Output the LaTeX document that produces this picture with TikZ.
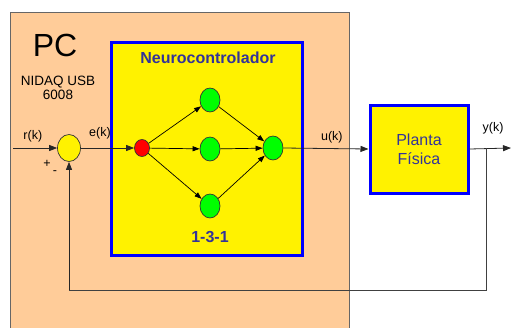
\documentclass[tikz,border=0pt]{standalone}
\usepackage{fontspec}
\setmainfont{Liberation Sans}
\usetikzlibrary{shapes.geometric, arrows.meta, positioning, calc}
\definecolor{peach}{HTML}{FFCC99}
\definecolor{txtblue}{HTML}{333399}

\begin{document}
\begin{tikzpicture}[
    x=1pt, y=-1pt,
    pcbox/.style  = {rectangle, draw=black!60, fill=peach, inner sep=0pt,
                     minimum width=339pt, minimum height=330pt},
    blk/.style    = {rectangle, draw=blue, line width=3pt, fill=yellow,
                     inner sep=0pt, text=txtblue, align=center},
    neuron/.style = {ellipse, draw=black!80, line width=0.7pt, inner sep=0pt,
                     minimum width=20pt, minimum height=24pt, fill=green},
    sig/.style    = {font=\fontsize{12.5}{14}\selectfont, text=black},
    arrow/.style  = {-{Triangle[length=8pt,width=6pt]}, black!85, line width=0.8pt},
    narrow/.style = {-{Triangle[length=7pt,width=5pt]}, black, line width=0.7pt},
    fbline/.style = {black!75, line width=0.8pt}
]
\clip (0,0) rectangle (511,327);

%% -- PC ------------------------------------------------------
\node[pcbox] (pc) at (179.5,177) {};
\node[font=\fontsize{32}{36}\selectfont] (pclbl) at (55,45) {PC};
\node[font=\fontsize{13.5}{15}\selectfont, align=center] (daq) at (58,88)
     {NIDAQ USB\\[-1pt]6008};

%% -- Neurocontrolador ----------------------------------------
\node[blk, minimum width=191pt, minimum height=213pt] (neuro) at (206.5,148.5) {};
\node[font=\bfseries\fontsize{16}{18}\selectfont, text=txtblue] (nlbl) at (208,58) {Neurocontrolador};
\node[font=\bfseries\fontsize{16}{18}\selectfont, text=txtblue] (topo) at (210,237) {1-3-1};

\node[neuron, fill=red, minimum width=15pt, minimum height=17pt] (inp) at (142,148) {};
\node[neuron] (h1)  at (210,100) {};
\node[neuron] (h2)  at (210,149) {};
\node[neuron] (h3)  at (210,206) {};
\node[neuron] (out) at (273,148) {};

%% -- Planta --------------------------------------------------
\node[blk, minimum width=98pt, minimum height=88pt,
      font=\fontsize{16}{19}\selectfont] (plant) at (419,149) {Planta\\F\'isica};

%% -- Sumador -------------------------------------------------
\node[neuron, fill=yellow, minimum width=23pt, minimum height=27pt] (sum) at (69,148) {};
\node[sig] (plus)  at (47,164) {+};
\node[sig] (minus) at (55,173) {-};

\coordinate (rin)    at (13,148);
\coordinate (yout)   at (511,148);
\coordinate (branch) at (486,148);
\coordinate (fbl)    at (69,290);

%% -- Arrows: signal path -------------------------------------
\draw[arrow] (rin) -- node[sig, above=2pt, pos=0.45]{r(k)} (sum.west);
\draw[arrow] (sum.east) -- (inp.west);
\node[sig] (elbl) at (100,133) {e(k)};
\draw[arrow] (out.east) -- node[sig, above=2pt, pos=0.57]{u(k)} (plant.west);
\draw[arrow] (plant.east) -- (yout);
\node[sig] (ylbl) at (493,128) {y(k)};

%% -- Arrows: network -----------------------------------------
\foreach \h in {h1,h2,h3}{
  \draw[narrow] (inp) -- (\h);
  \draw[narrow] (\h) -- (out);
}

%% -- Feedback ------------------------------------------------
\draw[fbline] (branch) |- (fbl);
\draw[arrow] (fbl) -- (sum.south);

\end{tikzpicture}
\end{document}
